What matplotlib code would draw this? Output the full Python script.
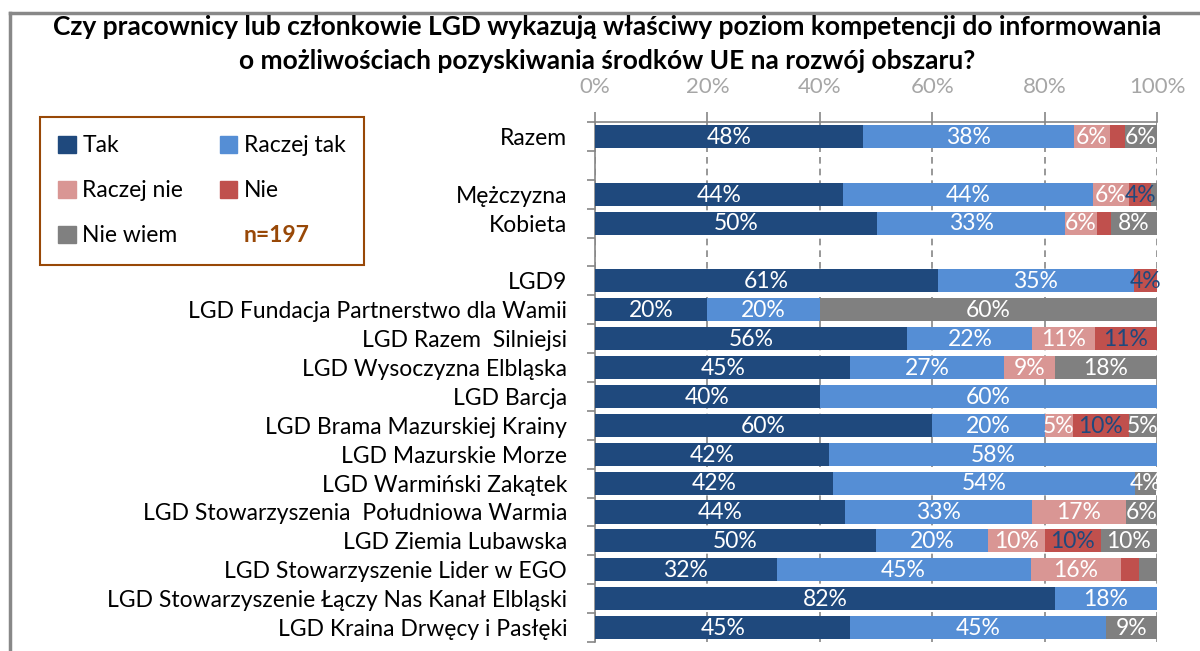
import matplotlib
matplotlib.use('Agg')
import matplotlib.pyplot as plt
from matplotlib.patches import Patch
from matplotlib.lines import Line2D
import numpy as np

plt.rcParams['font.family'] = ['Lato', 'DejaVu Sans']

categories = ['Razem', '', 'Mężczyzna', 'Kobieta', '',
              'LGD9',
              'LGD Fundacja Partnerstwo dla Wamii',
              'LGD Razem  Silniejsi',
              'LGD Wysoczyzna Elbląska',
              'LGD Barcja',
              'LGD Brama Mazurskiej Krainy',
              'LGD Mazurskie Morze',
              'LGD Warmiński Zakątek',
              'LGD Stowarzyszenia  Południowa Warmia',
              'LGD Ziemia Lubawska',
              'LGD Stowarzyszenie Lider w EGO',
              'LGD Stowarzyszenie Łączy Nas Kanał Elbląski',
              'LGD Kraina Drwęcy i Pasłęki']

series_names = ['Tak', 'Raczej tak', 'Raczej nie', 'Nie', 'Nie wiem']

tak =        [47.7, 0, 44.2, 50.2, 0, 61.0, 20, 55.6, 45.45, 40, 60, 41.7, 42.3, 44.4, 50, 32.3, 81.8, 45.45]
raczej_tak = [37.6, 0, 44.4, 33.4, 0, 34.9, 20, 22.2, 27.27, 60, 20, 58.3, 53.8, 33.3, 20, 45.2, 18.2, 45.45]
raczej_nie = [6.3, 0, 6.4, 5.7, 0, 0, 0, 11.1, 9.09, 0, 5, 0, 0, 16.7, 10, 16.1, 0, 0]
nie =        [2.7, 0, 4.0, 2.5, 0, 4.1, 0, 11.1, 0, 0, 10, 0, 0, 0, 10, 3.2, 0, 0]
nie_wiem =   [5.7, 0, 1.0, 8.2, 0, 0, 60, 0, 18.18, 0, 5, 0, 3.8, 5.6, 10, 3.2, 0, 9.09]

colors = ['#1F497D', '#558ED5', '#D99694', '#C0504D', '#808080']
label_colors = ['white', 'white', 'white', '#1F497D', 'white']

fig = plt.figure(figsize=(12, 6.51), dpi=100)
ax = fig.add_axes([595 / 1200, 1 - 642 / 651, 562 / 1200, 520 / 651])

y = np.arange(len(categories))
left = np.zeros(len(categories))
for vals, name, col, lcol in zip([tak, raczej_tak, raczej_nie, nie, nie_wiem],
                                 series_names, colors, label_colors):
    vals = np.array(vals, dtype=float)
    ax.barh(y, vals, left=left, height=0.8, color=col, label=name, zorder=3)
    for yi, (l, v) in enumerate(zip(left, vals)):
        if v >= 3.5:
            ax.text(l + v / 2, yi + 0.03, f'{round(v)}%', ha='center', va='center',
                    color=lcol, fontsize=16.5, zorder=4)
    left += vals

ax.set_xlim(0, 100)
ax.set_ylim(len(categories) - 0.5, -0.5)

# x axis on top
ax.xaxis.tick_top()
ax.set_xticks([0, 20, 40, 60, 80, 100])
ax.set_xticklabels(['0%', '20%', '40%', '60%', '80%', '100%'])
ax.tick_params(axis='x', colors='#868686', labelcolor='#A6A6A6', labelsize=16,
               length=7, width=1.2, pad=11)
ax.grid(axis='x', color='#868686', linestyle=(0, (4, 3)), linewidth=1.2, zorder=0)

ax.set_yticks(y)
ax.set_yticklabels(categories)
ax.tick_params(axis='y', which='major', length=0, labelsize=16.5, pad=20)
ax.set_yticks(np.arange(-0.5, len(categories), 1), minor=True)
ax.tick_params(axis='y', which='minor', length=6, width=1.2, color='#868686')

for s in ['right', 'bottom']:
    ax.spines[s].set_visible(False)
for s in ['left', 'top']:
    ax.spines[s].set_color('#868686')
    ax.spines[s].set_linewidth(1.2)

# title
fig.text(0.506, 1 - 27 / 651, 'Czy pracownicy lub członkowie LGD wykazują właściwy poziom kompetencji do informowania',
         ha='center', va='center', fontsize=19, fontweight='bold')
fig.text(0.506, 1 - 61 / 651, 'o możliwościach pozyskiwania środków UE na rozwój obszaru?',
         ha='center', va='center', fontsize=19, fontweight='bold')

# legend (column-wise order)
handles = [Patch(color=colors[0]), Patch(color=colors[2]), Patch(color=colors[4]),
           Patch(color=colors[1]), Patch(color=colors[3]), Patch(color='none')]
labels = ['Tak', 'Raczej nie', 'Nie wiem', 'Raczej tak', 'Nie', 'n=197']
leg = fig.legend(handles, labels, ncol=2, loc='upper left',
                 bbox_to_anchor=(40 / 1200, 1 - 117 / 651), borderaxespad=0,
                 fontsize=16.5, handlelength=0.75, handleheight=0.75, handletextpad=0.3,
                 labelspacing=1.05, columnspacing=1.6, borderpad=0.8,
                 fancybox=False, edgecolor='#984807', framealpha=1)
leg.get_frame().set_linewidth(1.5)
ntext = leg.get_texts()[5]
ntext.set_color('#984807')
ntext.set_fontweight('bold')

# chart border
fig.add_artist(Line2D([10 / 1200, 1], [1 - 13 / 651, 1 - 13 / 651], color='#888888', linewidth=2.5))
fig.add_artist(Line2D([10 / 1200, 10 / 1200], [0, 1 - 13 / 651], color='#888888', linewidth=2.5))

fig.savefig('out.png', dpi=100)
